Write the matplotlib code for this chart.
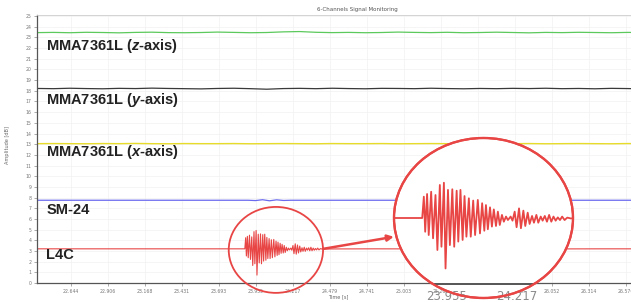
import numpy as np
import matplotlib
matplotlib.use("Agg")
import matplotlib.pyplot as plt
from matplotlib.patches import Ellipse

plt.rcParams['mathtext.fontset'] = 'custom'
plt.rcParams['mathtext.it'] = 'Liberation Sans:italic:bold'
plt.rcParams['mathtext.rm'] = 'Liberation Sans:bold'
plt.rcParams['mathtext.bf'] = 'Liberation Sans:bold'

# ---------------- data ----------------
x_ticks = [22.644, 22.906, 23.168, 23.431, 23.693, 23.955, 24.217, 24.479,
           24.741, 25.003, 25.265, 25.527, 25.790, 26.052, 26.314, 26.576]
x_tick_labels = ["22.644", "22.906", "23.168", "23.431", "23.693", "23.955",
                 "24.217", "24.479", "24.741", "25.003", "25.265", "25.527",
                 "25.790", "26.052", "26.314", "26.576"]
y_ticks = list(range(0, 26))

t_range = (22.403, 26.936)

channel_labels = [r"MMA7361L ($\mathit{z}$-axis)", r"MMA7361L ($\mathit{y}$-axis)",
                  r"MMA7361L ($\mathit{x}$-axis)", "SM-24", "L4C"]
label_y = [22.19, 17.13, 12.27, 6.84, 2.62]

green_v = [23.45, 23.47, 23.44, 23.48, 23.46, 23.43, 23.47, 23.49, 23.45, 23.44,
           23.46, 23.50, 23.47, 23.44, 23.46, 23.52, 23.55, 23.48, 23.45, 23.47,
           23.44, 23.46, 23.50, 23.47, 23.45, 23.48, 23.44, 23.46, 23.49, 23.46,
           23.43, 23.47, 23.45, 23.48, 23.46, 23.44, 23.47, 23.45, 23.49, 23.46]
black_v = [18.22, 18.20, 18.24, 18.21, 18.19, 18.23, 18.21, 18.25, 18.22, 18.20,
           18.18, 18.22, 18.24, 18.20, 18.15, 18.21, 18.23, 18.20, 18.24, 18.21,
           18.19, 18.23, 18.22, 18.20, 18.24, 18.21, 18.19, 18.22, 18.20, 18.23,
           18.21, 18.24, 18.20, 18.22, 18.19, 18.23, 18.21, 18.18, 18.24, 18.22]
yellow_v = [13.05, 13.06, 13.05, 13.04, 13.06, 13.05, 13.07, 13.05, 13.04, 13.06,
            13.05, 13.05, 13.06, 13.04, 13.05, 13.06, 13.05, 13.04, 13.06, 13.05,
            13.05, 13.06, 13.04, 13.05, 13.06, 13.05, 13.04, 13.06, 13.05, 13.05,
            13.06, 13.04, 13.05, 13.06, 13.05, 13.04, 13.06, 13.05, 13.05, 13.06]
blue_t = [22.403, 23.90, 23.95, 24.00, 24.05, 24.10, 24.15, 24.20, 26.936]
blue_v = [7.75, 7.75, 7.72, 7.80, 7.70, 7.79, 7.73, 7.75, 7.75]

l4c_t = [22.403, 23.875,
         23.881, 23.886, 23.893, 23.899, 23.908, 23.915, 23.924, 23.931, 23.940, 23.946,
         23.955, 23.961, 23.970, 23.977, 23.986, 23.993, 24.002, 24.008, 24.016, 24.024,
         24.031, 24.038, 24.047, 24.054, 24.063, 24.070, 24.080, 24.088, 24.096, 24.104,
         24.110, 24.117, 24.125, 24.132, 24.139, 24.147, 24.154, 24.161, 24.169, 24.176,
         24.184, 24.191, 24.201, 24.208, 24.216, 24.223, 24.232, 24.239, 24.248, 24.255,
         24.264, 24.271, 24.280, 24.287, 24.296, 24.303, 24.312, 24.319, 24.327, 24.335,
         24.343, 24.351, 24.359, 24.367, 24.375, 24.383, 24.391, 24.400, 24.410, 24.422,
         24.50, 24.80, 25.20, 25.60, 26.00, 26.40, 26.936]
l4c_v = [3.20, 3.20,
         4.24, 2.53, 4.37, 2.37, 4.48, 2.21, 4.32, 1.64, 4.81, 1.80,
         4.92, 0.74, 4.57, 1.88, 4.60, 1.80, 4.53, 2.05, 4.57, 2.13,
         4.27, 2.29, 4.16, 2.29, 4.05, 2.37, 4.08, 2.45, 3.92, 2.58,
         3.83, 2.65, 3.72, 2.78, 3.62, 2.81, 3.51, 2.86, 3.35, 3.02,
         3.27, 3.10, 3.27, 3.07, 3.51, 2.75, 3.67, 2.70, 3.56, 2.81,
         3.46, 2.91, 3.30, 2.97, 3.35, 2.97, 3.27, 3.07, 3.30, 3.02,
         3.35, 3.02, 3.27, 3.07, 3.23, 3.10, 3.27, 3.10, 3.22, 3.18,
         3.19, 3.20, 3.19, 3.20, 3.19, 3.20, 3.20]

mag_tick_labels = ["23.955", "24.217"]
mag_tick_pos = [23.965, 24.225]

GREEN, BLACK, YELLOW, BLUE, RED = "#5cc95c", "#3a3a3a", "#e8dc2a", "#6a6aee", "#e84545"

# ---------------- figure ----------------
fig = plt.figure(figsize=(6.31, 3.02), dpi=100)
fig.patch.set_facecolor("white")
ax = fig.add_axes([37/631, 19/302, 640/631, 268/302])
ax.set_xlim(*t_range)
ax.set_ylim(0, 25.1)

grid_t = np.linspace(t_range[0], t_range[1], len(green_v))
ax.plot(grid_t, green_v, color=GREEN, lw=0.9)
ax.plot(grid_t, black_v, color=BLACK, lw=0.9)
ax.plot(grid_t, yellow_v, color=YELLOW, lw=1.0)
ax.plot(blue_t, blue_v, color=BLUE, lw=0.9)
ax.plot(l4c_t, l4c_v, color=RED, lw=0.8)

for lab, yv in zip(channel_labels, label_y):
    ax.text(22.47, yv, lab, va="center", ha="left", fontsize=10.5,
            fontweight="bold", family="Liberation Sans", color="#222222")

ax.set_xticks(x_ticks)
ax.set_xticklabels(x_tick_labels)
ax.set_yticks(y_ticks)
ax.tick_params(axis="both", labelsize=3.3, labelcolor="#777777", length=2,
               width=0.5, color="#888888", pad=2)
ax.grid(True, color="#f1f1f1", lw=0.5)
for s in ["left", "bottom"]:
    ax.spines[s].set_color("#555555")
    ax.spines[s].set_linewidth(0.9)
ax.spines["top"].set_color("#cccccc")
ax.spines["top"].set_linewidth(0.6)
ax.spines["right"].set_visible(False)

fig.text(357/631, 1 - 10/302, "6-Channels Signal Monitoring", fontsize=4,
         color="#555555", ha="center", va="center")
fig.text(8/631, 1 - 145/302, "Amplitude [dB]", fontsize=3.6, color="#666666",
         rotation=90, ha="center", va="center")
fig.text(338/631, 1 - 297/302, "Time [s]", fontsize=3.6, color="#666666",
         ha="center", va="center")

# small circle
small = Ellipse((24.095, 3.1), 0.668, 8.05, facecolor="none", edgecolor=RED,
                lw=1.3, clip_on=False, zorder=5)
ax.add_patch(small)

# arrow
ax.annotate("", xy=(24.93, 4.33), xytext=(24.43, 3.2),
            arrowprops=dict(arrowstyle="-|>", color=RED, lw=1.8,
                            mutation_scale=9, shrinkA=0, shrinkB=0), zorder=6)

# magnifier
ins = fig.add_axes([394/631, 4/302, 179/631, 160/302])
ins.set_xlim(23.771, 24.431)
ins.set_ylim(-0.70, 7.10)
ins.axis("off")
big = Ellipse((0.5, 0.5), 1, 1, transform=ins.transAxes, facecolor="white",
              edgecolor=RED, lw=1.6, zorder=0, clip_on=False)
ins.add_patch(big)
ln, = ins.plot(l4c_t, l4c_v, color=RED, lw=1.3, zorder=3)
ln.set_clip_path(big)
ax0 = ins.axhline(0, color="#555555", lw=1.4, zorder=2)
ax0.set_clip_path(big)
for p, lab in zip(mag_tick_pos, mag_tick_labels):
    tx = ins.text(p, -0.62, lab, fontsize=8.5, color="#8a8a8a", ha="center",
                  va="center", zorder=2)
    tx.set_clip_path(big)
big_edge = Ellipse((0.5, 0.5), 1, 1, transform=ins.transAxes, facecolor="none",
                   edgecolor=RED, lw=1.6, zorder=10, clip_on=False)
ins.add_patch(big_edge)

fig.savefig("out.png", dpi=100, facecolor="white")
